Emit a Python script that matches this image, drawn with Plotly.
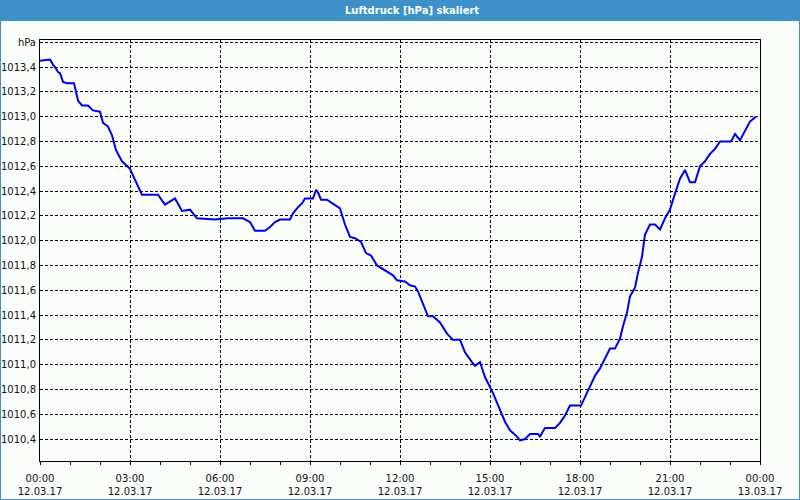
import plotly.graph_objects as go

# ---- data -------------------------------------------------------------
times = ["00:00", "00:20", "00:26", "00:30", "00:36", "00:40", "00:46", "00:54", "01:08", "01:12",
         "01:16", "01:24", "01:36", "01:46", "02:00", "02:06", "02:16", "02:24", "02:32", "02:44",
         "03:00", "03:10", "03:24", "03:56", "04:10", "04:30", "04:44", "05:00", "05:14", "05:50",
         "06:16", "06:46", "07:00", "07:10", "07:30", "07:40", "07:50", "08:00", "08:20", "08:26",
         "08:36", "08:44", "08:50", "09:06", "09:12", "09:16", "09:22", "09:34", "09:46", "10:00",
         "10:10", "10:20", "10:30", "10:42", "10:52", "11:02", "11:14", "11:30", "11:46", "11:54",
         "12:10", "12:20", "12:30", "12:36", "12:56", "13:06", "13:20", "13:34", "13:46", "14:00",
         "14:10", "14:24", "14:30", "14:40", "14:50", "15:06", "15:20", "15:30", "15:40", "15:54",
         "16:00", "16:10", "16:20", "16:36", "16:40", "16:50", "17:10", "17:20", "17:30", "17:40",
         "18:02", "18:10", "18:20", "18:30", "18:40", "18:50", "19:00", "19:10", "19:20", "19:26",
         "19:34", "19:40", "19:50", "19:56", "20:04", "20:10", "20:16", "20:20", "20:30", "20:40",
         "20:50", "21:00", "21:10", "21:20", "21:30", "21:40", "21:50", "22:00", "22:10", "22:20",
         "22:30", "22:40", "23:02", "23:10", "23:20", "23:30", "23:40", "23:52"]
pressure = [1013.45, 1013.46, 1013.42, 1013.40, 1013.36, 1013.35, 1013.28, 1013.27, 1013.27, 1013.21,
            1013.13, 1013.09, 1013.09, 1013.05, 1013.04, 1012.95, 1012.92, 1012.85, 1012.73, 1012.64,
            1012.58, 1012.49, 1012.37, 1012.37, 1012.29, 1012.34, 1012.24, 1012.25, 1012.18, 1012.17,
            1012.18, 1012.18, 1012.15, 1012.08, 1012.08, 1012.11, 1012.15, 1012.17, 1012.17, 1012.22,
            1012.27, 1012.30, 1012.34, 1012.34, 1012.41, 1012.39, 1012.33, 1012.33, 1012.30, 1012.26,
            1012.13, 1012.03, 1012.02, 1011.99, 1011.90, 1011.88, 1011.80, 1011.76, 1011.72, 1011.68,
            1011.67, 1011.64, 1011.63, 1011.59, 1011.39, 1011.39, 1011.34, 1011.25, 1011.20, 1011.20,
            1011.10, 1011.02, 1010.99, 1011.02, 1010.90, 1010.77, 1010.63, 1010.54, 1010.47, 1010.42,
            1010.39, 1010.40, 1010.44, 1010.44, 1010.42, 1010.49, 1010.49, 1010.53, 1010.59, 1010.67,
            1010.67, 1010.74, 1010.82, 1010.91, 1010.97, 1011.05, 1011.13, 1011.13, 1011.21, 1011.31,
            1011.42, 1011.55, 1011.62, 1011.74, 1011.87, 1012.05, 1012.10, 1012.13, 1012.13, 1012.09,
            1012.18, 1012.25, 1012.38, 1012.50, 1012.57, 1012.47, 1012.47, 1012.60, 1012.64, 1012.70,
            1012.74, 1012.80, 1012.80, 1012.86, 1012.81, 1012.88, 1012.96, 1013.00]

y_tick_values = [1010.4, 1010.6, 1010.8, 1011.0, 1011.2, 1011.4, 1011.6, 1011.8, 1012.0,
                 1012.2, 1012.4, 1012.6, 1012.8, 1013.0, 1013.2, 1013.4, 1013.6]
y_tick_labels = ["1010,4", "1010,6", "1010,8", "1011,0", "1011,2", "1011,4", "1011,6", "1011,8",
                 "1012,0", "1012,2", "1012,4", "1012,6", "1012,8", "1013,0", "1013,2", "1013,4", "hPa"]
x_tick_values = ["2017-03-12 00:00", "2017-03-12 03:00", "2017-03-12 06:00", "2017-03-12 09:00",
                 "2017-03-12 12:00", "2017-03-12 15:00", "2017-03-12 18:00", "2017-03-12 21:00",
                 "2017-03-13 00:00"]
x_tick_labels = ["00:00<br>12.03.17", "03:00<br>12.03.17", "06:00<br>12.03.17", "09:00<br>12.03.17",
                 "12:00<br>12.03.17", "15:00<br>12.03.17", "18:00<br>12.03.17", "21:00<br>12.03.17",
                 "00:00<br>13.03.17"]
title_text = "Luftdruck [hPa] skaliert"

# ---- figure -----------------------------------------------------------
x_dt = ["2017-03-12 " + t for t in times]

W, H = 800, 500
L, R, T, B = 40, 40, 40, 39
pw, ph = W - L - R, H - T - B

def px_x(p):
    return (p - L) / pw

def px_y(p):
    return 1 - (p - T) / ph

BLUE_BAR = "#3E91C8"
BG = "#FBFDFB"
FONT = "DejaVu Sans"

fig = go.Figure()
fig.add_trace(go.Scatter(x=x_dt, y=pressure, mode="lines",
                         line=dict(color="#0000E6", width=2), hoverinfo="skip"))

grid_common = dict(showgrid=True, gridcolor="#000000", gridwidth=1, griddash="3px,2px",
                   showline=True, linecolor="#000000", linewidth=1, mirror=True,
                   zeroline=False, automargin=False,
                   tickfont=dict(family=FONT, size=10, color="#111111"))

fig.update_layout(
    width=W, height=H,
    margin=dict(l=L, r=R, t=T, b=B, pad=0),
    paper_bgcolor=BG, plot_bgcolor=BG,
    showlegend=False,
    xaxis=dict(type="date", range=["2017-03-12 00:00", "2017-03-13 00:00"],
               tickmode="array", tickvals=x_tick_values, ticktext=x_tick_labels,
               ticks="outside", ticklen=3, tickcolor="#000000", ticklabelstandoff=5,
               minor=dict(ticks="outside", ticklen=3, tickcolor="#000000",
                          dtick=3600000, showgrid=False),
               **grid_common),
    yaxis=dict(range=[1010.223, 1013.618],
               tickmode="array", tickvals=y_tick_values, ticktext=y_tick_labels,
               ticks="", ticklabelstandoff=1, **grid_common),
    shapes=[
        dict(type="rect", xref="paper", yref="paper",
             x0=px_x(0), x1=px_x(W), y0=px_y(21), y1=px_y(0),
             fillcolor=BLUE_BAR, line=dict(width=0), layer="above"),
        dict(type="rect", xref="paper", yref="paper",
             x0=px_x(0.5), x1=px_x(W - 0.5), y0=px_y(H - 0.5), y1=px_y(0.5),
             fillcolor="rgba(0,0,0,0)", line=dict(color=BLUE_BAR, width=1), layer="above"),
    ],
    annotations=[
        dict(text="<b>" + title_text + "</b>", xref="paper", yref="paper",
             x=px_x(411.5), y=px_y(10.5), xanchor="center", yanchor="middle",
             showarrow=False, font=dict(family=FONT, size=10, color="#ffffff")),
    ],
)

fig.write_html("out.html")
